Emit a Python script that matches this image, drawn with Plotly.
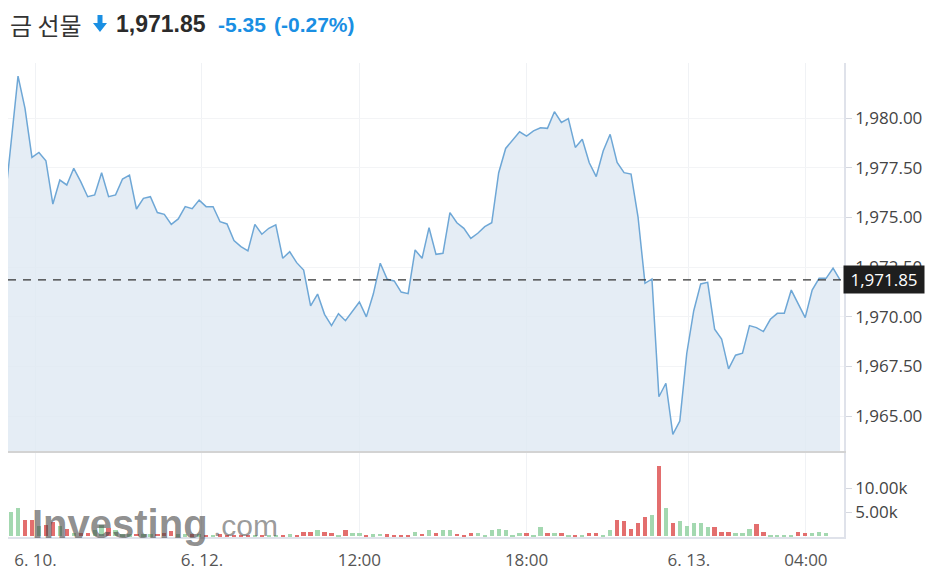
import plotly.graph_objects as go

# ---- data ----
price = [
    1975.40, 1978.64, 1982.11, 1980.49, 1978.02, 1978.27, 1977.85, 1975.67, 1976.88, 1976.63,
    1977.47, 1976.80, 1976.04, 1976.13, 1977.25, 1976.04, 1976.13, 1976.93, 1977.13, 1975.42,
    1975.96, 1976.04, 1975.24, 1975.15, 1974.65, 1974.92, 1975.54, 1975.44, 1975.87, 1975.54,
    1975.54, 1974.78, 1974.67, 1973.83, 1973.53, 1973.31, 1974.65, 1974.15, 1974.45, 1974.62,
    1972.94, 1973.27, 1972.72, 1972.35, 1970.54, 1971.14, 1970.12, 1969.55, 1970.15, 1969.80,
    1970.29, 1970.74, 1969.99, 1971.14, 1972.69, 1971.88, 1971.80, 1971.24, 1971.16, 1973.36,
    1972.94, 1974.48, 1973.14, 1973.19, 1975.24, 1974.73, 1974.45, 1973.94, 1974.20, 1974.53,
    1974.73, 1977.25, 1978.47, 1978.89, 1979.31, 1979.09, 1979.35, 1979.51, 1979.48, 1980.32,
    1979.78, 1979.97, 1978.52, 1978.93, 1977.75, 1977.05, 1978.34, 1979.18, 1977.77, 1977.25,
    1977.18, 1975.03, 1971.68, 1971.90, 1965.97, 1966.65, 1964.08, 1964.75, 1968.16, 1970.30,
    1971.65, 1971.73, 1969.37, 1968.88, 1967.37, 1968.06, 1968.16, 1969.55, 1969.45, 1969.25,
    1969.87, 1970.17, 1970.17, 1971.34, 1970.67, 1969.95, 1971.34, 1971.93, 1971.93, 1972.44,
    1971.85,
]
volume_k = [
    5.0, 5.1, 5.8, 3.3, 3.3, 2.1, 2.3, 2.9, 2.1, 1.4,
    0.7, 0.7, 0.7, 1.2, 2.2, 1.7, 1.2, 0.35, 0.35, 0.5,
    0.35, 0.35, 0.5, 0.7, 1.0, 0.35, 0.35, 0.35, 0.35, 0.3,
    0.2, 0.35, 0.2, 0.25, 0.25, 0.3, 0.3, 0.2, 0.3, 0.3,
    0.3, 0.35, 0.3, 0.9, 0.9, 1.2, 0.8, 0.6, 0.3, 1.2,
    0.55, 0.55, 0.3, 0.4, 0.45, 0.4, 0.3, 0.3, 0.3, 0.9,
    0.5, 1.2, 0.6, 1.2, 1.2, 0.5, 0.2, 0.6, 0.6, 0.3,
    1.25, 1.5, 1.25, 0.3, 0.6, 0.6, 0.3, 1.9, 0.6, 0.6,
    0.6, 0.3, 0.3, 0.3, 0.6, 0.6, 0.3, 1.25, 3.4, 3.1,
    1.5, 2.8, 4.0, 4.4, 14.65, 5.9, 2.8, 3.1, 2.15, 2.8,
    2.8, 1.9, 1.9, 0.9, 0.9, 0.6, 0.6, 1.5, 2.5, 0.9,
    0.3, 0.3, 0.3, 0.3, 0.9, 0.6, 0.6, 0.9, 0.6, 0.0,
    0.0,
]
tick_pos = [4.5, 28.4, 51, 75, 98.3, 115.1]
tick_labels = ["6. 10.", "6. 12.", "12:00", "18:00", "6. 13.", "04:00"]
last_price = 1971.85
change = "-5.35"
change_pct = "(-0.27%)"
title_name = "금 선물"

idx = list(range(len(price)))
volume = [v * 1000 for v in volume_k]
bar_colors = ["#a3d8b0" if (i == 0 or price[i] >= price[i - 1]) else "#e36e6e" for i in idx]

# ---- geometry: the page body has an 8px margin, so figure coords = screen - 8 ----
OFF = 8
W, H = 936 - OFF, 575 - OFF
L, R, T, B = 8 - OFF, 844 - OFF, 63 - OFF, 537 - OFF
def px(xs):
    return (xs - OFF - L) / (R - L)
def py(ys):
    return (B - (ys - OFF)) / (B - T)

fig = go.Figure()
fig.add_trace(go.Scatter(
    x=idx, y=price, mode="lines", xaxis="x2", yaxis="y",
    line=dict(color="#6ea7d6", width=1.5), fill="tozeroy",
    fillcolor="rgba(222,233,243,0.8)", hoverinfo="skip", showlegend=False,
))
fig.add_trace(go.Bar(
    x=idx, y=volume, xaxis="x", yaxis="y2", marker=dict(color=bar_colors, line=dict(width=0)),
    width=0.62, hoverinfo="skip", showlegend=False,
))

grid = "#f0f2f5"
tickfont = dict(family="Open Sans", size=17, color="#444")
fig.update_layout(
    width=W, height=H, margin=dict(l=L, r=W - R, t=T, b=H - B),
    paper_bgcolor="white", plot_bgcolor="white",
    bargap=0,
    xaxis=dict(domain=[0, 1], anchor="y2", range=[0.56, 120.57], tickvals=tick_pos,
               ticktext=tick_labels, showgrid=True, gridcolor=grid, gridwidth=1,
               zeroline=False, showline=True, linecolor="#dfe2ea", linewidth=1.5,
               ticks="outside", ticklen=7, tickcolor="rgba(0,0,0,0)",
               tickfont=dict(family="Open Sans", size=17, color="#555")),
    xaxis2=dict(domain=[0, 1], anchor="y", matches="x", tickvals=tick_pos,
                showticklabels=False, showgrid=True, gridcolor=grid, zeroline=False,
                showline=True, linecolor="#d3d3d3", linewidth=2),
    yaxis=dict(domain=[py(451), 1], anchor="x2", side="right", range=[1963.24, 1982.77],
               tickvals=[1965, 1967.5, 1970, 1972.5, 1975, 1977.5, 1980], tickformat=",.2f",
               showgrid=True, gridcolor="#f3f4f6", zeroline=False, showline=True,
               linecolor="#dfe2ea", linewidth=1.5, ticks="outside", ticklen=6,
               tickcolor="#d5d8e0", tickfont=tickfont),
    yaxis2=dict(domain=[0, py(453)], anchor="x", side="right", range=[-200, 17300],
                tickvals=[5000, 10000], ticktext=["5.00k", "10.00k"], showgrid=False,
                zeroline=False, showline=True, linecolor="#dfe2ea", linewidth=1.5,
                ticks="outside", ticklen=6, tickcolor="#d5d8e0", tickfont=tickfont),
)

# dashed last-price line
fig.add_shape(type="line", xref="paper", yref="y", x0=0, x1=1, y0=last_price, y1=last_price,
              line=dict(color="#333", width=1.3, dash="8px,7px"))

# last price tag
fig.add_annotation(xref="paper", yref="y", x=1, y=last_price, xanchor="left", yanchor="middle",
                   text=f"{last_price:,.2f}", showarrow=False, bgcolor="#1e1e1e",
                   font=dict(family="Open Sans", size=17, color="white"), width=78, height=25,
                   borderpad=1, xshift=-1)

# header
hy = py(24)
fig.add_annotation(xref="paper", yref="paper", x=px(8), y=hy, xanchor="left", yanchor="middle",
                   text=title_name, showarrow=False,
                   font=dict(family="Noto Sans CJK KR", size=24, color="#333"))
fig.add_annotation(xref="paper", yref="paper", x=px(114), y=hy, xanchor="left", yanchor="middle",
                   text=f"<b>{last_price:,.2f}</b>", showarrow=False,
                   font=dict(family="Liberation Sans", size=23, color="#2b2b2b"))
fig.add_annotation(xref="paper", yref="paper", x=px(216), y=hy, xanchor="left", yanchor="middle",
                   text=f"<b>{change}</b>", showarrow=False,
                   font=dict(family="Liberation Sans", size=21, color="#1a8fe3"))
fig.add_annotation(xref="paper", yref="paper", x=px(272), y=hy, xanchor="left", yanchor="middle",
                   text=f"<b>{change_pct}</b>", showarrow=False,
                   font=dict(family="Liberation Sans", size=21, color="#1a8fe3"))
# down arrow icon
pts = [(97.5, 15), (102.5, 15), (102.5, 23), (107, 23), (100, 32), (93, 23), (97.5, 23)]
path = "M " + " L ".join(f"{px(a):.5f},{py(b):.5f}" for a, b in pts) + " Z"
fig.add_shape(type="path", xref="paper", yref="paper", path=path,
              fillcolor="#1a8fe3", line=dict(width=0))

# watermark
fig.add_annotation(xref="paper", yref="paper", x=px(30), y=py(548), xanchor="left", yanchor="bottom",
                   text="<b>Investing</b>", showarrow=False,
                   font=dict(family="Liberation Sans", size=40, color="rgba(70,70,70,0.62)"))
fig.add_annotation(xref="paper", yref="paper", x=px(211), y=py(544), xanchor="left", yanchor="bottom",
                   text=".com", showarrow=False,
                   font=dict(family="Liberation Sans", size=30, color="rgba(70,70,70,0.55)"))

fig.write_html("out.html")
